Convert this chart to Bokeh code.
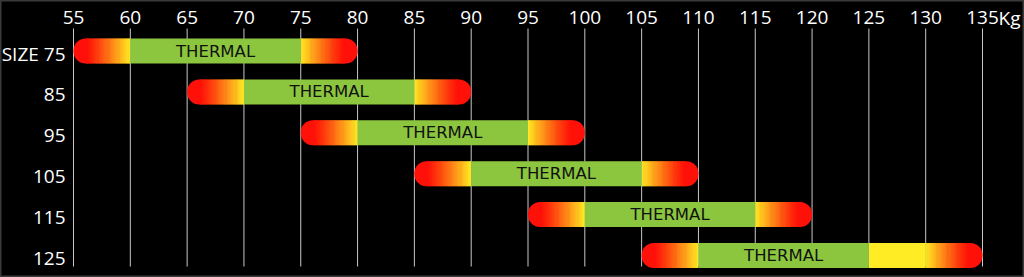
import numpy as np
from bokeh.plotting import figure
from bokeh.models import Range1d, ColumnDataSource
from bokeh.core.properties import value
from bokeh.embed import file_html
from bokeh.resources import INLINE

# ---- data ----
sizes = ["SIZE 75", "85", "95", "105", "115", "125"]
range_start = [55, 65, 75, 85, 95, 105]
green_start = [60, 70, 80, 90, 100, 110]
green_end = [75, 85, 95, 105, 115, 125]
yellow_end = [75, 85, 95, 105, 115, 130]
range_end = [80, 90, 100, 110, 120, 135]
bar_label = "THERMAL"
weight_ticks = list(range(55, 136, 5))
unit_label = "Kg"

# ---- layout (frame covers the whole canvas) ----
W, H = 1024, 277
px_per_unit = 909 / 80.0
first_tick_px = 73
x0 = weight_ticks[0] - first_tick_px / px_per_unit
x1 = x0 + W / px_per_unit
row_px = 40.9
first_row_px = 50.5
grid_top_px, grid_bot_px = 28, 266
tick_base_px = 17
ylab_right_px = 65
y_top = -first_row_px / row_px
y_bot = (H - first_row_px) / row_px
y_grid_top = (grid_top_px - first_row_px) / row_px
y_grid_bot = (grid_bot_px - first_row_px) / row_px
y_tick = (tick_base_px - first_row_px) / row_px
x_ylab = x0 + ylab_right_px / px_per_unit
bar_h = 25 / row_px
cap_u = 12.5 / px_per_unit

RED = np.array([255, 16, 8])
YEL = np.array([255, 236, 36])
GREEN = "#8cc63f"
YELLOW = "#ffec24"
FONT = "Open Sans"
BAR_FONT = "DejaVu Sans"

def hexc(c):
    c = np.clip(np.round(c), 0, 255).astype(int)
    return "#%02x%02x%02x" % tuple(c)

p = figure(width=W, height=H, x_range=Range1d(x0, x1), y_range=Range1d(y_bot, y_top),
           output_backend="svg", toolbar_location=None,
           x_axis_location=None, y_axis_location=None,
           min_border_left=0, min_border_right=0, min_border_top=0, min_border_bottom=0,
           background_fill_color="black", border_fill_color="black",
           outline_line_color="#3a3a3a", outline_line_width=2)

rows = list(range(len(sizes)))

p.xgrid.grid_line_color = None
p.ygrid.grid_line_color = None

# vertical gridlines
p.segment(x0=weight_ticks, x1=weight_ticks, y0=[y_grid_top] * len(weight_ticks),
          y1=[y_grid_bot] * len(weight_ticks), line_color="#c8c8c8", line_width=1)

# top tick labels + unit
p.text(x=weight_ticks, y=[y_tick] * len(weight_ticks), text=[str(t) for t in weight_ticks],
       text_align="center", text_baseline="alphabetic", text_color="white",
       text_font=value(FONT), text_font_size="19px")
p.text(x=[weight_ticks[-1]], y=[y_tick], text=[unit_label], x_offset=16,
       text_align="left", text_baseline="alphabetic", text_color="white",
       text_font=value(FONT), text_font_size="19px")

# size labels on the left (slightly below bar centre, as in the original)
p.text(x=[x_ylab] * len(rows), y=[r + 3 / row_px for r in rows], text=sizes,
       text_align="right", text_baseline="middle", text_color="white",
       text_font=value(FONT), text_font_size="19px")

# caps (rounded ends)
cap_src = ColumnDataSource(dict(
    y=rows + rows,
    left=[s for s in range_start] + [e - 2 * cap_u for e in range_end],
    right=[s + 2 * cap_u for s in range_start] + [e for e in range_end],
))
p.hbar(y="y", left="left", right="right", height=bar_h, source=cap_src,
       fill_color=hexc(RED), line_color=None, border_radius=12)

# gradient slices
n = 40
gl, gr, gy, gc = [], [], [], []
for i in rows:
    # left gradient red -> yellow
    a, b = range_start[i] + cap_u, green_start[i]
    w = (b - a) / n
    for k in range(n):
        f = ((k + 0.5) / n) ** 1.15
        gl.append(a + k * w)
        gr.append(min(a + (k + 1.6) * w, b))
        gy.append(i)
        gc.append(hexc(RED + (YEL - RED) * f))
    # right gradient yellow -> red
    a, b = yellow_end[i], range_end[i] - cap_u
    w = (b - a) / n
    for k in range(n):
        f = 1 - (1 - (k + 0.5) / n) ** 1.15
        gl.append(max(a + (k - 0.6) * w, a))
        gr.append(a + (k + 1) * w)
        gy.append(i)
        gc.append(hexc(YEL + (RED - YEL) * f))
grad_src = ColumnDataSource(dict(y=gy, left=gl, right=gr, color=gc))
p.hbar(y="y", left="left", right="right", height=bar_h, source=grad_src,
       fill_color="color", line_color=None)

# green and yellow solid parts
solid_src = ColumnDataSource(dict(y=rows, gs=green_start, ge=green_end, ye=yellow_end,
                                  mid=[(a + b) / 2 for a, b in zip(green_start, green_end)],
                                  txt=[bar_label] * len(rows)))
p.hbar(y="y", left="ge", right="ye", height=bar_h, source=solid_src,
       fill_color=YELLOW, line_color=None)
p.hbar(y="y", left="gs", right="ge", height=bar_h, source=solid_src,
       fill_color=GREEN, line_color=None)
p.text(x="mid", y="y", text="txt", source=solid_src, text_align="center",
       text_baseline="middle", text_color="#111111", text_font=value(BAR_FONT),
       text_font_size="16.5px")

open("out.html", "w").write(file_html(p, INLINE))
